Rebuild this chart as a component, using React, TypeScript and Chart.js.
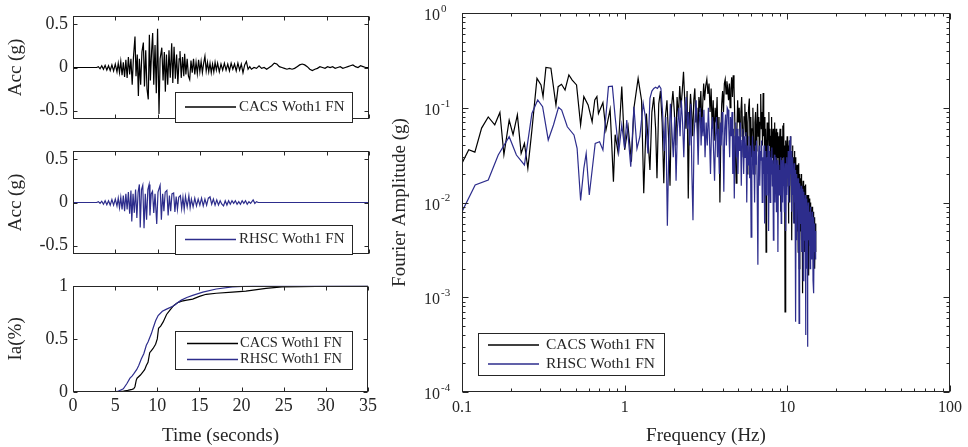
import React, { useEffect, useRef } from 'react';
import { Chart, registerables } from 'chart.js';

Chart.register(...registerables);

const FONT_FAMILY = "'Liberation Serif', 'Times New Roman', Times, serif";
const INK = '#262626';
const BLACK = '#000000';
const BLUE = '#2d2d8c';

const SERIES_NAMES = ['CACS Woth1 FN', 'RHSC Woth1 FN'];
const TIME_TICKS = [0, 5, 10, 15, 20, 25, 30, 35];
const ACC_TICKS = [-0.5, 0, 0.5];
const IA_TICKS = [0, 0.5, 1];
const FREQ_TICKS = [0.1, 1, 10, 100];
const AMP_EXPONENTS = [-4, -3, -2, -1, 0];

// [time (s), acceleration (g)]
const CACS_ACC: [number, number][] = [
  [0, 0], [2.8, 0], [3.0, 0.01], [3.2, -0.015], [3.4, 0.02], [3.6, -0.02], [3.8, 0.025], [4.0, -0.03],
  [4.2, 0.02], [4.4, -0.035], [4.6, 0.03], [4.8, -0.04], [5.0, 0.04], [5.2, -0.05], [5.35, 0.05], [5.5, -0.06],
  [5.65, 0.07], [5.8, -0.09], [5.95, 0.06], [6.1, -0.11], [6.25, 0.09], [6.4, -0.12], [6.55, 0.12], [6.7, -0.08],
  [6.85, 0.1], [7.0, -0.2], [7.15, 0.12], [7.33, 0.36], [7.45, -0.1], [7.6, 0.15], [7.73, -0.33], [7.85, 0.1],
  [8.0, -0.2], [8.15, 0.18], [8.32, 0.29], [8.45, -0.22], [8.6, 0.2], [8.75, -0.25], [8.9, -0.37], [9.03, 0.38],
  [9.15, -0.15], [9.3, 0.2], [9.42, 0.4], [9.55, -0.2], [9.7, 0.26], [9.85, -0.3], [10.0, 0.45], [10.17, -0.54],
  [10.3, 0.1], [10.5, 0.23], [10.65, -0.15], [10.8, 0.18], [10.92, -0.28], [11.05, 0.15], [11.2, -0.2], [11.35, 0.2],
  [11.5, -0.12], [11.67, 0.28], [11.8, -0.18], [11.95, 0.24], [12.1, -0.13], [12.25, 0.15], [12.4, -0.19], [12.55, 0.1],
  [12.65, 0.19], [12.8, -0.12], [12.95, 0.12], [13.1, -0.1], [13.2, 0.16], [13.35, -0.08], [13.5, 0.1], [13.65, -0.1],
  [13.8, -0.14], [13.95, 0.08], [14.1, -0.06], [14.25, 0.1], [14.4, -0.08], [14.55, 0.06], [14.7, -0.07], [14.85, 0.09],
  [15.0, -0.05], [15.15, 0.07], [15.3, -0.06], [15.45, 0.05], [15.6, 0.13], [15.75, -0.04], [15.9, 0.06], [16.05, -0.05],
  [16.2, 0.05], [16.35, -0.06], [16.5, 0.04], [16.65, -0.05], [16.8, 0.06], [16.95, -0.03], [17.1, 0.05], [17.3, -0.05],
  [17.5, 0.04], [17.7, -0.03], [17.9, 0.05], [18.1, -0.03], [18.3, 0.04], [18.5, -0.04], [18.7, 0.05], [18.9, -0.02],
  [19.1, 0.04], [19.3, -0.04], [19.5, 0.05], [19.7, -0.03], [19.9, 0.04], [20.1, -0.06], [20.3, 0.03], [20.5, 0.07],
  [20.7, -0.02], [20.9, 0.01], [21.1, -0.02], [21.4, 0.0], [21.7, -0.01], [22.0, 0.02], [22.3, -0.01], [22.6, 0.0],
  [22.9, -0.02], [23.2, 0.0], [23.5, 0.02], [23.8, 0.05], [24.1, 0.04], [24.4, 0.01], [24.7, 0.0], [25.0, -0.01],
  [25.3, -0.02], [25.6, -0.01], [25.9, -0.02], [26.2, -0.01], [26.5, 0.01], [26.8, 0.03], [27.1, 0.04], [27.4, 0.03],
  [27.7, 0.01], [28.0, -0.02], [28.3, -0.035], [28.6, -0.02], [28.9, -0.01], [29.2, 0.01], [29.5, 0.0], [29.8, -0.01],
  [30.1, 0.01], [30.4, 0.0], [30.7, 0.01], [31.0, -0.01], [31.3, 0.0], [31.6, 0.01], [31.9, -0.01], [32.2, 0.0],
  [32.5, 0.01], [32.8, 0.02], [33.1, 0.03], [33.4, 0.01], [33.7, 0.0], [34.0, 0.02], [34.3, 0.01], [34.6, 0.0], [35, 0.0],
];

const RHSC_ACC: [number, number][] = [
  [0, 0], [2.8, 0], [3.0, 0.01], [3.2, -0.01], [3.4, 0.015], [3.6, -0.02], [3.8, 0.02], [4.0, -0.025],
  [4.2, 0.02], [4.4, -0.03], [4.6, 0.035], [4.8, -0.03], [5.0, 0.04], [5.2, -0.04], [5.35, 0.05], [5.5, -0.06],
  [5.65, 0.06], [5.8, -0.08], [5.95, 0.08], [6.1, -0.1], [6.25, 0.1], [6.4, -0.08], [6.55, 0.12], [6.7, -0.13],
  [6.85, 0.14], [6.95, -0.22], [7.1, 0.1], [7.25, -0.12], [7.4, 0.15], [7.55, -0.18], [7.7, 0.12], [7.85, 0.21],
  [7.95, -0.29], [8.1, 0.15], [8.25, 0.2], [8.4, -0.3], [8.55, 0.1], [8.7, -0.2], [8.85, 0.15], [9.0, 0.21],
  [9.1, -0.15], [9.25, 0.1], [9.4, 0.13], [9.55, -0.12], [9.7, 0.1], [9.9, -0.25], [10.05, 0.12], [10.3, 0.2],
  [10.45, -0.2], [10.6, 0.1], [10.75, -0.1], [10.9, 0.12], [11.1, 0.14], [11.25, -0.15], [11.4, 0.08], [11.55, -0.1],
  [11.7, 0.1], [11.9, 0.11], [12.05, -0.11], [12.2, 0.07], [12.35, -0.08], [12.5, 0.06], [12.7, 0.08], [12.85, -0.07],
  [13.0, 0.06], [13.15, -0.08], [13.3, 0.07], [13.5, -0.05], [13.7, 0.08], [13.85, -0.06], [14.0, 0.04], [14.2, -0.05],
  [14.4, 0.05], [14.6, -0.04], [14.8, 0.04], [15.0, -0.03], [15.2, 0.05], [15.4, -0.04], [15.6, 0.04], [15.8, -0.03],
  [16.0, 0.05], [16.2, 0.065], [16.4, -0.02], [16.6, 0.04], [16.8, -0.03], [17.0, 0.03], [17.2, -0.03], [17.4, 0.02],
  [17.6, -0.02], [17.8, -0.04], [18.0, 0.02], [18.2, -0.03], [18.4, 0.02], [18.6, -0.02], [18.8, 0.02], [19.0, -0.01],
  [19.2, 0.02], [19.4, -0.02], [19.6, 0.01], [19.8, -0.02], [20.0, 0.02], [20.2, -0.01], [20.4, 0.02], [20.6, -0.02],
  [20.8, 0.01], [21.0, -0.01], [21.3, 0.03], [21.5, -0.01], [21.7, 0.01], [21.9, 0.0], [22.1, 0.0], [35, 0.0],
];

// [time (s), normalised Arias intensity]
const CACS_IA: [number, number][] = [
  [0, 0], [4.5, 0], [5.5, 0.004], [6.0, 0.008], [6.5, 0.015], [7.0, 0.025], [7.2, 0.03], [7.35, 0.05],
  [7.5, 0.11], [7.6, 0.13], [8.0, 0.16], [8.3, 0.19], [8.5, 0.21], [8.7, 0.25], [8.9, 0.28], [9.1, 0.37],
  [9.3, 0.39], [9.5, 0.41], [9.8, 0.45], [10.0, 0.5], [10.15, 0.6], [10.4, 0.62], [10.7, 0.66], [11.1, 0.73],
  [11.5, 0.77], [11.9, 0.81], [12.4, 0.84], [12.9, 0.855], [13.5, 0.865], [14.2, 0.875], [15.0, 0.9], [15.8, 0.92],
  [17.0, 0.93], [18.9, 0.94], [20.5, 0.95], [22.9, 0.975], [24.8, 0.99], [27.0, 0.993], [30.7, 0.997], [35, 1.0],
];

const RHSC_IA: [number, number][] = [
  [0, 0], [4.4, 0], [5.3, 0.005], [5.97, 0.03], [6.4, 0.08], [6.76, 0.13], [7.0, 0.15], [7.2, 0.17],
  [7.55, 0.21], [7.8, 0.25], [8.1, 0.31], [8.4, 0.36], [8.7, 0.44], [8.9, 0.47], [9.1, 0.51], [9.3, 0.55],
  [9.5, 0.6], [9.8, 0.67], [10.1, 0.72], [10.6, 0.76], [11.1, 0.78], [11.9, 0.81], [12.4, 0.84], [12.85, 0.865],
  [13.5, 0.89], [14.2, 0.91], [15.4, 0.94], [17.0, 0.97], [18.9, 0.99], [21.3, 1.0], [35, 1.0],
];

// [frequency (Hz), Fourier amplitude (g)]
const CACS_FAS: [number, number][] = [
  [0.1, 0.026], [0.11, 0.036], [0.12, 0.034], [0.132, 0.061], [0.145, 0.08], [0.159, 0.066], [0.171, 0.089], [0.181, 0.032],
  [0.195, 0.074], [0.206, 0.052], [0.219, 0.084], [0.231, 0.033], [0.242, 0.042], [0.254, 0.023], [0.269, 0.058], [0.289, 0.204],
  [0.306, 0.174], [0.315, 0.131], [0.328, 0.267], [0.352, 0.261], [0.378, 0.107], [0.39, 0.167], [0.409, 0.177], [0.43, 0.154],
  [0.454, 0.222], [0.476, 0.196], [0.506, 0.174], [0.536, 0.066], [0.561, 0.131], [0.596, 0.107], [0.631, 0.071], [0.655, 0.121],
  [0.675, 0.131], [0.69, 0.087], [0.735, 0.113], [0.767, 0.058], [0.814, 0.096], [0.853, 0.0166], [0.874, 0.052], [0.91, 0.034],
  [0.96, 0.167], [1.0, 0.036], [1.05, 0.063], [1.1, 0.027], [1.14, 0.099], [1.21, 0.204], [1.27, 0.12], [1.31, 0.0125],
  [1.36, 0.087], [1.43, 0.022], [1.47, 0.09], [1.51, 0.13], [1.55, 0.06], [1.58, 0.018], [1.62, 0.11], [1.66, 0.15],
  [1.7, 0.07], [1.74, 0.016], [1.78, 0.08], [1.82, 0.12], [1.86, 0.05], [1.9, 0.015], [1.94, 0.1], [1.98, 0.15],
  [2.02, 0.09], [2.06, 0.04], [2.1, 0.13], [2.14, 0.08], [2.18, 0.17], [2.22, 0.1], [2.26, 0.15], [2.3, 0.24],
  [2.34, 0.12], [2.38, 0.06], [2.42, 0.15], [2.46, 0.011], [2.5, 0.08], [2.54, 0.14], [2.58, 0.09], [2.62, 0.05],
  [2.66, 0.12], [2.7, 0.16], [2.74, 0.07], [2.78, 0.1], [2.82, 0.04], [2.86, 0.13], [2.9, 0.09], [2.94, 0.15],
  [2.98, 0.06], [3.02, 0.11], [3.06, 0.18], [3.1, 0.12], [3.15, 0.17], [3.2, 0.2], [3.25, 0.14], [3.3, 0.18],
  [3.35, 0.09], [3.4, 0.16], [3.45, 0.06], [3.5, 0.12], [3.55, 0.045], [3.6, 0.1], [3.65, 0.07], [3.7, 0.13],
  [3.75, 0.04], [3.8, 0.08], [3.85, 0.01], [3.9, 0.05], [3.95, 0.11], [4.0, 0.15], [4.05, 0.09], [4.1, 0.18],
  [4.15, 0.2], [4.2, 0.14], [4.25, 0.19], [4.3, 0.16], [4.35, 0.12], [4.4, 0.18], [4.45, 0.1], [4.5, 0.16],
  [4.55, 0.21], [4.6, 0.13], [4.65, 0.22], [4.7, 0.17], [4.75, 0.08], [4.8, 0.03], [4.85, 0.016], [4.9, 0.06],
  [4.95, 0.12], [5.0, 0.07], [5.06, 0.1], [5.12, 0.05], [5.18, 0.09], [5.24, 0.13], [5.3, 0.06], [5.36, 0.03],
  [5.42, 0.08], [5.48, 0.11], [5.54, 0.05], [5.6, 0.09], [5.66, 0.02], [5.72, 0.07], [5.78, 0.1], [5.84, 0.125],
  [5.9, 0.04], [5.96, 0.08], [6.02, 0.03], [6.08, 0.06], [6.14, 0.1], [6.2, 0.045], [6.26, 0.02], [6.32, 0.07],
  [6.38, 0.09], [6.44, 0.035], [6.5, 0.06], [6.56, 0.11], [6.62, 0.05], [6.68, 0.08], [6.74, 0.025], [6.8, 0.07],
  [6.86, 0.14], [6.92, 0.06], [6.98, 0.09], [7.04, 0.04], [7.1, 0.143], [7.16, 0.05], [7.22, 0.08], [7.28, 0.02],
  [7.34, 0.06], [7.4, 0.003], [7.46, 0.04], [7.52, 0.07], [7.58, 0.03], [7.64, 0.06], [7.7, 0.09], [7.76, 0.04],
  [7.82, 0.06], [7.88, 0.015], [7.94, 0.05], [8.0, 0.08], [8.06, 0.03], [8.12, 0.047], [8.18, 0.06], [8.24, 0.025],
  [8.3, 0.05], [8.36, 0.07], [8.42, 0.02], [8.48, 0.045], [8.54, 0.06], [8.6, 0.012], [8.66, 0.04], [8.72, 0.055],
  [8.78, 0.03], [8.84, 0.05], [8.9, 0.02], [8.96, 0.045], [9.02, 0.06], [9.08, 0.008], [9.14, 0.04], [9.2, 0.05],
  [9.26, 0.02], [9.32, 0.04], [9.38, 0.065], [9.44, 0.03], [9.5, 0.069], [9.56, 0.02], [9.62, 0.04], [9.68, 0.0007],
  [9.74, 0.03], [9.8, 0.045], [9.86, 0.015], [9.92, 0.035], [9.98, 0.05], [10.04, 0.02], [10.1, 0.04], [10.16, 0.006],
  [10.22, 0.03], [10.28, 0.045], [10.34, 0.01], [10.4, 0.03], [10.46, 0.05], [10.52, 0.02], [10.58, 0.035], [10.64, 0.004],
  [10.7, 0.025], [10.76, 0.04], [10.82, 0.015], [10.88, 0.03], [10.94, 0.01], [11.0, 0.028], [11.06, 0.035], [11.12, 0.006],
  [11.18, 0.02], [11.24, 0.03], [11.3, 0.027], [11.36, 0.005], [11.42, 0.02], [11.48, 0.025], [11.54, 0.008], [11.6, 0.02],
  [11.66, 0.003], [11.72, 0.022], [11.78, 0.026], [11.84, 0.002], [11.9, 0.015], [11.96, 0.02], [12.02, 0.005], [12.08, 0.018],
  [12.14, 0.012], [12.2, 0.02], [12.26, 0.004], [12.32, 0.015], [12.38, 0.0011], [12.44, 0.012], [12.5, 0.017], [12.56, 0.005],
  [12.62, 0.013], [12.68, 0.008], [12.74, 0.015], [12.8, 0.003], [12.86, 0.012], [12.92, 0.014], [12.98, 0.0155], [13.04, 0.006],
  [13.1, 0.011], [13.16, 0.004], [13.22, 0.012], [13.28, 0.009], [13.34, 0.002], [13.4, 0.01], [13.46, 0.012], [13.52, 0.005],
  [13.58, 0.0017], [13.64, 0.009], [13.7, 0.011], [13.76, 0.004], [13.82, 0.01], [13.88, 0.007], [13.94, 0.009], [14.0, 0.003],
  [14.06, 0.008], [14.12, 0.006], [14.18, 0.009], [14.24, 0.004], [14.3, 0.008], [14.36, 0.005], [14.42, 0.007], [14.48, 0.008],
  [14.54, 0.003], [14.6, 0.006], [14.66, 0.004], [14.72, 0.007], [14.78, 0.002], [14.84, 0.005], [14.9, 0.006], [14.96, 0.003],
  [15.0, 0.005],
];

const RHSC_FAS: [number, number][] = [
  [0.1, 0.008], [0.1205, 0.0153], [0.145, 0.0173], [0.167, 0.0317], [0.195, 0.0495], [0.216, 0.0317], [0.242, 0.0249], [0.269, 0.087],
  [0.292, 0.121], [0.313, 0.1025], [0.339, 0.0457], [0.365, 0.0658], [0.392, 0.101], [0.41, 0.0947], [0.444, 0.063], [0.488, 0.0516],
  [0.51, 0.0373], [0.536, 0.0105], [0.561, 0.0229], [0.58, 0.033], [0.606, 0.012], [0.659, 0.042], [0.701, 0.0438], [0.735, 0.0358],
  [0.795, 0.167], [0.84, 0.169], [0.874, 0.08], [0.92, 0.0344], [0.96, 0.0658], [1.0, 0.0373], [1.03, 0.0743], [1.09, 0.0239],
  [1.14, 0.1025], [1.19, 0.037], [1.24, 0.0495], [1.3, 0.111], [1.34, 0.08], [1.39, 0.033], [1.43, 0.126], [1.47, 0.15],
  [1.51, 0.16], [1.55, 0.165], [1.59, 0.16], [1.63, 0.17], [1.67, 0.16], [1.71, 0.09], [1.75, 0.035], [1.79, 0.08],
  [1.83, 0.0057], [1.87, 0.04], [1.91, 0.11], [1.95, 0.06], [1.99, 0.03], [2.03, 0.08], [2.07, 0.017], [2.11, 0.06],
  [2.15, 0.1], [2.19, 0.05], [2.23, 0.12], [2.27, 0.07], [2.31, 0.03], [2.35, 0.09], [2.39, 0.13], [2.43, 0.06],
  [2.47, 0.09], [2.51, 0.04], [2.55, 0.11], [2.59, 0.02], [2.63, 0.0065], [2.67, 0.05], [2.71, 0.08], [2.75, 0.12],
  [2.79, 0.06], [2.83, 0.025], [2.87, 0.07], [2.91, 0.1], [2.95, 0.04], [2.99, 0.08], [3.03, 0.05], [3.07, 0.095],
  [3.12, 0.03], [3.17, 0.07], [3.22, 0.04], [3.27, 0.1], [3.32, 0.05], [3.37, 0.02], [3.42, 0.06], [3.47, 0.08],
  [3.52, 0.035], [3.57, 0.017], [3.62, 0.05], [3.67, 0.08], [3.72, 0.03], [3.77, 0.06], [3.82, 0.02], [3.87, 0.07],
  [3.92, 0.04], [3.97, 0.09], [4.02, 0.05], [4.07, 0.013], [4.12, 0.06], [4.17, 0.085], [4.22, 0.04], [4.27, 0.1],
  [4.32, 0.095], [4.37, 0.06], [4.42, 0.03], [4.47, 0.08], [4.52, 0.05], [4.57, 0.09], [4.62, 0.02], [4.67, 0.06],
  [4.72, 0.011], [4.77, 0.05], [4.82, 0.07], [4.87, 0.03], [4.92, 0.06], [4.97, 0.02], [5.03, 0.05], [5.09, 0.035],
  [5.15, 0.07], [5.21, 0.015], [5.27, 0.045], [5.33, 0.06], [5.39, 0.02], [5.45, 0.05], [5.51, 0.03], [5.57, 0.055],
  [5.63, 0.01], [5.69, 0.04], [5.75, 0.025], [5.81, 0.05], [5.87, 0.018], [5.93, 0.04], [5.99, 0.0043], [6.05, 0.03],
  [6.11, 0.05], [6.17, 0.02], [6.23, 0.035], [6.29, 0.01], [6.35, 0.04], [6.41, 0.025], [6.47, 0.045], [6.53, 0.012],
  [6.59, 0.0022], [6.65, 0.03], [6.71, 0.04], [6.77, 0.015], [6.83, 0.035], [6.89, 0.028], [6.95, 0.045], [7.01, 0.01],
  [7.07, 0.03], [7.13, 0.02], [7.19, 0.04], [7.25, 0.006], [7.31, 0.025], [7.37, 0.035], [7.43, 0.012], [7.49, 0.03],
  [7.55, 0.02], [7.61, 0.04], [7.67, 0.005], [7.73, 0.025], [7.79, 0.035], [7.85, 0.01], [7.91, 0.03], [7.97, 0.02],
  [8.03, 0.038], [8.09, 0.015], [8.15, 0.028], [8.21, 0.004], [8.27, 0.02], [8.33, 0.032], [8.39, 0.01], [8.45, 0.025],
  [8.51, 0.03], [8.57, 0.008], [8.63, 0.02], [8.69, 0.028], [8.75, 0.003], [8.81, 0.018], [8.87, 0.025], [8.93, 0.012],
  [8.99, 0.022], [9.05, 0.015], [9.11, 0.03], [9.17, 0.006], [9.23, 0.02], [9.29, 0.028], [9.35, 0.01], [9.41, 0.025],
  [9.47, 0.015], [9.53, 0.03], [9.59, 0.008], [9.65, 0.02], [9.71, 0.026], [9.77, 0.005], [9.83, 0.018], [9.89, 0.03],
  [9.95, 0.012], [10.01, 0.025], [10.07, 0.018], [10.13, 0.035], [10.19, 0.01], [10.25, 0.03], [10.31, 0.045], [10.37, 0.015],
  [10.43, 0.05], [10.49, 0.02], [10.55, 0.035], [10.61, 0.008], [10.67, 0.025], [10.73, 0.03], [10.79, 0.012], [10.85, 0.022],
  [10.91, 0.006], [10.97, 0.02], [11.03, 0.026], [11.09, 0.01], [11.15, 0.018], [11.21, 0.022], [11.27, 0.00055], [11.33, 0.015],
  [11.39, 0.02], [11.45, 0.004], [11.51, 0.016], [11.57, 0.012], [11.63, 0.018], [11.69, 0.003], [11.75, 0.014], [11.81, 0.00053],
  [11.87, 0.012], [11.93, 0.016], [11.99, 0.006], [12.05, 0.014], [12.11, 0.01], [12.17, 0.015], [12.23, 0.003], [12.29, 0.012],
  [12.35, 0.014], [12.41, 0.005], [12.47, 0.011], [12.53, 0.0015], [12.59, 0.01], [12.65, 0.013], [12.71, 0.004], [12.77, 0.011],
  [12.83, 0.008], [12.89, 0.012], [12.95, 0.0004], [13.01, 0.01], [13.07, 0.008], [13.13, 0.011], [13.19, 0.002], [13.25, 0.009],
  [13.31, 0.0003], [13.37, 0.008], [13.43, 0.01], [13.49, 0.004], [13.55, 0.009], [13.61, 0.006], [13.67, 0.0035], [13.73, 0.008],
  [13.79, 0.002], [13.85, 0.007], [13.91, 0.009], [13.97, 0.005], [14.03, 0.007], [14.09, 0.0025], [14.15, 0.006], [14.21, 0.008],
  [14.27, 0.004], [14.33, 0.006], [14.39, 0.0015], [14.45, 0.005], [14.51, 0.007], [14.57, 0.0011], [14.63, 0.005], [14.69, 0.006],
  [14.75, 0.003], [14.81, 0.005], [14.87, 0.0025], [14.93, 0.004], [15.0, 0.003],
];

const toPoints = (rows: [number, number][]) => rows.map(([x, y]) => ({ x, y }));

function logMinorTicks(minExp: number, maxExp: number) {
  const out: number[] = [];
  for (let e = minExp; e < maxExp; e++) {
    for (let k = 2; k <= 9; k++) out.push(k * Math.pow(10, e));
  }
  return out;
}

const framePlugin = {
  id: 'frame',
  afterDatasetsDraw(chart: any, _args: any, o: any) {
    const { ctx, chartArea: a } = chart;
    const xs = chart.scales.x;
    const ys = chart.scales.y;
    const L = Math.round(a.left) + 0.5;
    const R = Math.round(a.right) - 0.5;
    const T = Math.round(a.top) + 0.5;
    const B = Math.round(a.bottom) - 0.5;
    ctx.save();
    ctx.strokeStyle = INK;
    ctx.lineWidth = 1;
    ctx.beginPath();
    const xt = (vals: number[], len: number) => {
      for (const v of vals) {
        const p = Math.round(xs.getPixelForValue(v)) + 0.5;
        ctx.moveTo(p, B); ctx.lineTo(p, B - len);
        ctx.moveTo(p, T); ctx.lineTo(p, T + len);
      }
    };
    const yt = (vals: number[], len: number) => {
      for (const v of vals) {
        const p = Math.round(ys.getPixelForValue(v)) + 0.5;
        ctx.moveTo(L, p); ctx.lineTo(L + len, p);
        ctx.moveTo(R, p); ctx.lineTo(R - len, p);
      }
    };
    xt(o.xMajor, o.majorLen);
    yt(o.yMajor, o.majorLen);
    if (o.xMinor) xt(o.xMinor, o.minorLen);
    if (o.yMinor) yt(o.yMinor, o.minorLen);
    ctx.stroke();
    ctx.strokeRect(L, T, R - L, B - T);

    if (o.powerLabels) {
      ctx.fillStyle = INK;
      for (const e of o.powerLabels) {
        const y = ys.getPixelForValue(Math.pow(10, e));
        ctx.font = `16px ${FONT_FAMILY}`;
        ctx.textAlign = 'right';
        ctx.textBaseline = 'middle';
        ctx.fillText('10', a.left - 22, y + 3);
        ctx.font = `11px ${FONT_FAMILY}`;
        ctx.textAlign = 'left';
        ctx.fillText(String(e), a.left - 21, y - 4);
      }
    }

    const lg = o.legend;
    if (lg) {
      ctx.fillStyle = '#ffffff';
      ctx.fillRect(lg.x, lg.y, lg.w, lg.h);
      ctx.strokeStyle = INK;
      ctx.lineWidth = 1;
      ctx.strokeRect(lg.x + 0.5, lg.y + 0.5, lg.w, lg.h);
      ctx.font = `${lg.fontSize}px ${FONT_FAMILY}`;
      ctx.textAlign = 'left';
      ctx.textBaseline = 'middle';
      for (const r of lg.rows) {
        ctx.strokeStyle = r.color;
        ctx.lineWidth = 1.3;
        ctx.beginPath();
        ctx.moveTo(lg.lineX0, r.y);
        ctx.lineTo(lg.lineX1, r.y);
        ctx.stroke();
        ctx.fillStyle = INK;
        ctx.fillText(r.label, lg.textX, r.y);
      }
    }
    ctx.restore();
  },
};

function lineDataset(label: string, rows: [number, number][], color: string, order: number) {
  return {
    label,
    data: toPoints(rows),
    borderColor: color,
    backgroundColor: color,
    borderWidth: 1.2,
    pointRadius: 0,
    tension: 0,
    fill: false,
    order,
  };
}

function timeConfig(opts: {
  datasets: any[];
  yMin: number;
  yMax: number;
  yTicks: number[];
  yTitle: string;
  showX: boolean;
  padTop: number;
  xHeight: number;
  legend: any;
}) {
  return {
    type: 'line',
    data: { datasets: opts.datasets },
    plugins: [framePlugin],
    options: {
      animation: false,
      responsive: false,
      events: [],
      layout: { padding: { top: opts.padTop, right: 11, bottom: opts.showX ? 0 : 9, left: 0 } },
      plugins: {
        legend: { display: false },
        tooltip: { enabled: false },
        frame: {
          xMajor: TIME_TICKS,
          yMajor: opts.yTicks,
          majorLen: 4,
          minorLen: 2,
          legend: opts.legend,
        },
      },
      scales: {
        x: {
          type: 'linear',
          min: 0,
          max: 35,
          display: opts.showX,
          afterBuildTicks: (s: any) => { s.ticks = TIME_TICKS.map((v) => ({ value: v })); },
          afterFit: (s: any) => { s.height = opts.xHeight; },
          grid: { display: false, drawTicks: false },
          border: { display: false },
          ticks: {
            autoSkip: false,
            maxRotation: 0,
            padding: 3,
            color: INK,
            font: { family: FONT_FAMILY, size: 18 },
            callback: (v: any) => String(v),
          },
          title: {
            display: opts.showX,
            text: 'Time (seconds)',
            color: INK,
            font: { family: FONT_FAMILY, size: 19 },
            padding: { top: 0, bottom: 0 },
          },
        },
        y: {
          type: 'linear',
          min: opts.yMin,
          max: opts.yMax,
          afterBuildTicks: (s: any) => { s.ticks = opts.yTicks.map((v) => ({ value: v })); },
          afterFit: (s: any) => { s.width = 73; },
          grid: { display: false, drawTicks: false },
          border: { display: false },
          ticks: {
            padding: 5,
            color: INK,
            font: { family: FONT_FAMILY, size: 18 },
            callback: (v: any) => String(v),
          },
          title: {
            display: true,
            text: opts.yTitle,
            color: INK,
            font: { family: FONT_FAMILY, size: 19 },
            padding: { top: 5, bottom: 0 },
          },
        },
      },
    },
  };
}

function spectrumConfig() {
  return {
    type: 'line',
    data: {
      datasets: [
        lineDataset(SERIES_NAMES[0], CACS_FAS, BLACK, 1),
        lineDataset(SERIES_NAMES[1], RHSC_FAS, BLUE, 0),
      ],
    },
    plugins: [framePlugin],
    options: {
      animation: false,
      responsive: false,
      events: [],
      layout: { padding: { top: 13, right: 12, bottom: 0, left: 0 } },
      plugins: {
        legend: { display: false },
        tooltip: { enabled: false },
        frame: {
          xMajor: FREQ_TICKS,
          yMajor: AMP_EXPONENTS.map((e) => Math.pow(10, e)),
          xMinor: logMinorTicks(-1, 2),
          yMinor: logMinorTicks(-4, 0),
          majorLen: 6,
          minorLen: 3,
          powerLabels: AMP_EXPONENTS,
          legend: {
            x: 98, y: 333, w: 186, h: 42, fontSize: 15.5,
            lineX0: 108, lineX1: 159, textX: 166,
            rows: [
              { label: SERIES_NAMES[0], color: BLACK, y: 345 },
              { label: SERIES_NAMES[1], color: BLUE, y: 364 },
            ],
          },
        },
      },
      scales: {
        x: {
          type: 'logarithmic',
          min: 0.1,
          max: 100,
          afterBuildTicks: (s: any) => { s.ticks = FREQ_TICKS.map((v) => ({ value: v })); },
          afterFit: (s: any) => { s.height = 55; },
          grid: { display: false, drawTicks: false },
          border: { display: false },
          ticks: {
            autoSkip: false,
            maxRotation: 0,
            padding: 6,
            color: INK,
            font: { family: FONT_FAMILY, size: 16 },
            callback: (v: any) => String(v),
          },
          title: {
            display: true,
            text: 'Frequency (Hz)',
            color: INK,
            font: { family: FONT_FAMILY, size: 19 },
            padding: { top: 0, bottom: 0 },
          },
        },
        y: {
          type: 'logarithmic',
          min: 1e-4,
          max: 1,
          afterFit: (s: any) => { s.width = 82; },
          grid: { display: false, drawTicks: false },
          border: { display: false },
          ticks: { display: false },
          title: {
            display: true,
            text: 'Fourier Amplitude (g)',
            color: INK,
            font: { family: FONT_FAMILY, size: 19 },
            padding: { top: 9, bottom: 0 },
          },
        },
      },
    },
  };
}

function ChartCanvas(props: { left: number; top: number; width: number; height: number; make: () => any }) {
  const ref = useRef<HTMLCanvasElement>(null);
  useEffect(() => {
    const chart = new Chart(ref.current as HTMLCanvasElement, props.make());
    return () => chart.destroy();
  }, []);
  return (
    <canvas
      ref={ref}
      width={props.width}
      height={props.height}
      style={{ position: 'absolute', left: props.left, top: props.top, width: props.width, height: props.height }}
    />
  );
}

export default function App() {
  return (
    <div style={{ position: 'fixed', left: 0, top: 0, width: 968, height: 447, background: '#ffffff', overflow: 'hidden' }}>
      <ChartCanvas
        left={0}
        top={0}
        width={380}
        height={135}
        make={() =>
          timeConfig({
            datasets: [lineDataset(SERIES_NAMES[0], CACS_ACC, BLACK, 0)],
            yMin: -0.6, yMax: 0.6, yTicks: ACC_TICKS, yTitle: 'Acc (g)', showX: false, padTop: 13, xHeight: 0,
            legend: {
              x: 175, y: 92, w: 177, h: 30, fontSize: 15, lineX0: 185, lineX1: 236, textX: 239,
              rows: [{ label: SERIES_NAMES[0], color: BLACK, y: 107 }],
            },
          })
        }
      />
      <ChartCanvas
        left={0}
        top={135}
        width={380}
        height={135}
        make={() =>
          timeConfig({
            datasets: [lineDataset(SERIES_NAMES[1], RHSC_ACC, BLUE, 0)],
            yMin: -0.6, yMax: 0.6, yTicks: ACC_TICKS, yTitle: 'Acc (g)', showX: false, padTop: 13, xHeight: 0,
            legend: {
              x: 175, y: 90, w: 177, h: 29, fontSize: 15, lineX0: 185, lineX1: 236, textX: 239,
              rows: [{ label: SERIES_NAMES[1], color: BLUE, y: 104.5 }],
            },
          })
        }
      />
      <ChartCanvas
        left={0}
        top={270}
        width={380}
        height={177}
        make={() =>
          timeConfig({
            datasets: [
              lineDataset(SERIES_NAMES[0], CACS_IA, BLACK, 1),
              lineDataset(SERIES_NAMES[1], RHSC_IA, BLUE, 0),
            ],
            yMin: 0, yMax: 1, yTicks: IA_TICKS, yTitle: 'Ia(%)', showX: true, padTop: 8, xHeight: 55,
            legend: {
              x: 175, y: 61, w: 177, h: 38, fontSize: 14.5, lineX0: 187, lineX1: 238, textX: 240,
              rows: [
                { label: SERIES_NAMES[0], color: BLACK, y: 73.5 },
                { label: SERIES_NAMES[1], color: BLUE, y: 89.5 },
              ],
            },
          })
        }
      />
      <ChartCanvas left={380} top={0} width={588} height={447} make={spectrumConfig} />
    </div>
  );
}
